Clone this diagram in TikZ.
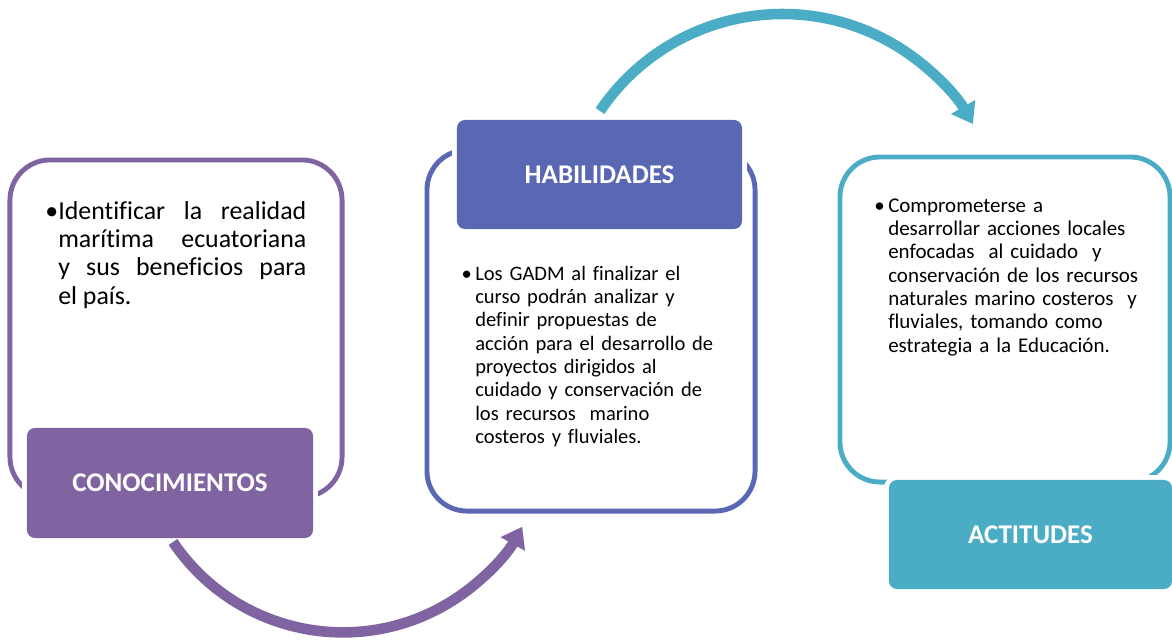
\documentclass[tikz,border=0pt]{standalone}
\usepackage{fontspec}
\setmainfont{Carlito}[Ligatures=NoCommon]
\usetikzlibrary{arrows.meta}
\definecolor{morado}{HTML}{8064A2}
\definecolor{azul}{HTML}{5A67B3}
\definecolor{celeste}{HTML}{4BACC6}
\begin{document}
\begin{tikzpicture}[x=0.025cm,y=0.025cm,line join=round]
    \tikzset{marco/.style={draw,line width=3.5pt,rounded corners=1cm,inner sep=0pt},
             etiqueta/.style={rounded corners=0.2cm,inner sep=0pt,text=white,
                 font=\fontsize{19.2}{22}\selectfont\bfseries,
                 preaction={draw=white,line width=7pt}},
             texto/.style={anchor=base west,inner sep=0pt,text=black},
             flecha/.style={line width=7.5pt,-{Triangle[width=19pt,length=14pt]}}}
    \def \grande{\fontsize{18.4}{20.2}\selectfont}
    \def \chico{\fontsize{14.9}{16.6}\selectfont}
    \useasboundingbox (0,0) rectangle (1172,-639);
    % marcos
    \node[marco,draw=morado,minimum width=8.3cm,minimum height=8.425cm] (cono) at (176,-328.5) {};
    \node[marco,draw=azul,minimum width=8.2cm,minimum height=9.025cm] (habi) at (591,-330.5) {};
    \node[marco,draw=celeste,minimum width=8.25cm,minimum height=8.125cm] (acti) at (1005,-319.5) {};
    % etiquetas
    \node[etiqueta,fill=morado,minimum width=7.15cm,minimum height=2.75cm] (conolbl) at (170,-483) {CONOCIMIENTOS};
    \node[etiqueta,fill=azul,minimum width=7.125cm,minimum height=2.725cm] (habilbl) at (599.5,-174.5) {HABILIDADES};
    \node[etiqueta,fill=celeste,minimum width=7.075cm,minimum height=2.725cm] (actilbl) at (1030.5,-534.5) {ACTITUDES};
    % textos
    \node[texto,text width=6.2cm,align=justify,font=\grande] (conotxt) at (58,-219)
        {\llap{•}Identificar la realidad\linebreak marítima\ \ ecuatoriana\linebreak y sus beneficios para\linebreak el país.};
    \node[texto,text width=6.3cm,align=left,font=\fontsize{14.6}{16.6}\selectfont] (habitxt) at (475,-280)
        {\llap{•\,}Los GADM al finalizar el\\ curso podrán analizar y\\ definir propuestas de\\
         acción para el desarrollo de\\ proyectos dirigidos al\\ cuidado y conservación de\\
         los recursos\ \ marino\\ costeros y fluviales.};
    \node[texto,text width=6.5cm,align=left,font=\chico] (actitxt) at (888,-212)
        {\llap{•\,}Comprometerse a\\ desarrollar acciones locales\\ enfocadas\ \ al cuidado\ \ y\\
         conservación de los recursos\\ naturales marino costeros\ \ y\\ fluviales, tomando como\\
         estrategia a la Educación.};
    % flechas
    \coordinate (ini1) at (173,-542);
    \coordinate (ini2) at (600,-111);
    \draw[flecha,morado] (ini1) arc[start angle=214,end angle=331,radius=205];
    \draw[flecha,celeste] (ini2) arc[start angle=146,end angle=30,radius=220];
\end{tikzpicture}
\end{document}
